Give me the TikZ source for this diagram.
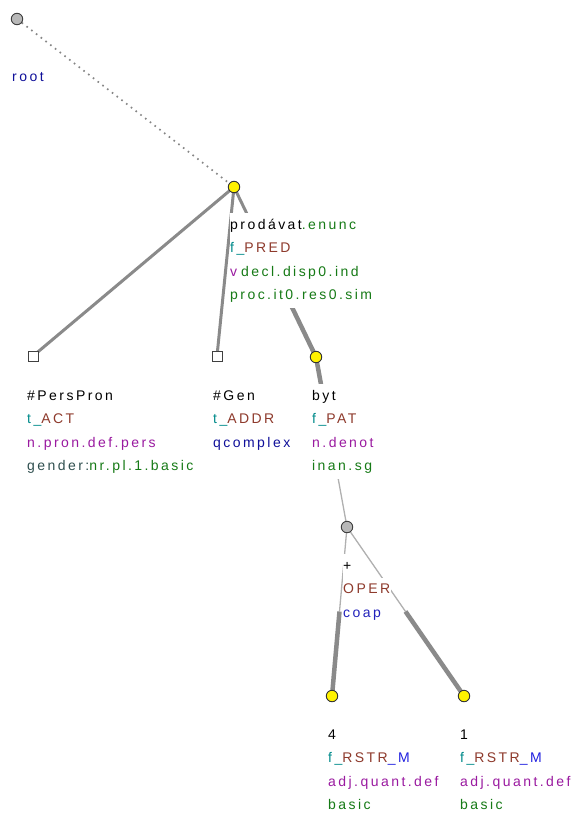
\documentclass[tikz,border=0pt]{standalone}
\usepackage{fontspec}
\setmainfont[LetterSpace=17.5]{Liberation Sans}
\usetikzlibrary{calc,backgrounds}
\definecolor{tcol}{HTML}{008B8B}
\definecolor{fcol}{HTML}{8E3A2C}
\definecolor{mcol}{HTML}{9A1AA0}
\definecolor{gcol}{HTML}{167A16}
\definecolor{dsg}{HTML}{2F4F4F}
\definecolor{bcol}{HTML}{10109A}
\definecolor{ccol}{HTML}{2222BB}
\definecolor{mblue}{HTML}{2020E0}
\definecolor{edgec}{HTML}{8A8A8A}
\definecolor{thinc}{HTML}{B0B0B0}
\begin{document}
\begin{tikzpicture}[x=1pt,y=-1pt,font=\fontsize{14}{16}\selectfont,
  lbl/.style={anchor=base west,fill=white,inner xsep=0.5pt,inner ysep=2pt,text height=14pt,text depth=6pt},
  ynode/.style={circle,draw=black!80,line width=0.9pt,fill=yellow,minimum size=11.5pt,inner sep=0pt},
  gnode/.style={circle,draw=black!75,line width=0.9pt,fill=black!28,minimum size=11.5pt,inner sep=0pt},
  snode/.style={rectangle,draw=black!75,line width=0.9pt,fill=white,minimum size=10pt,inner sep=0pt},
  mainedge/.style={draw=edgec,line width=3pt},
  thickedge/.style={draw=edgec,line width=4.5pt},
  thinedge/.style={draw=thinc,line width=1.3pt},
  rootedge/.style={draw=black!48,line width=1.7pt,dash pattern=on 1.6pt off 4.4pt}]
\useasboundingbox (0,0) rectangle (572,814);
% nodes
\node[gnode] (root) at (17,19) {};
\node[ynode] (prod) at (234,187) {};
\node[snode] (pers) at (33,356) {};
\node[snode] (gen) at (217,356) {};
\node[ynode] (byt) at (316,357) {};
\node[gnode] (coap) at (347,527) {};
\node[ynode] (four) at (332,696) {};
\node[ynode] (one) at (464,696) {};
% labels
\node[lbl] (rootL1) at (11.5,81) {\textcolor{bcol}{root}};
\node[lbl] (prodL1) at (229.5,229) {prodávat\textcolor{gcol}{.enunc}};
\node[lbl] (prodL2) at (229.5,252.6) {\textcolor{tcol}{f\_}\textcolor{fcol}{PRED}};
\node[lbl] (prodL3) at (229.5,276.2) {\textcolor{mcol}{v}\hspace{4pt}\textcolor{gcol}{decl.disp0.ind}};
\node[lbl] (prodL4) at (229.5,299.8) {\textcolor{gcol}{proc.it0.res0.sim}};
\node[lbl] (persL1) at (26.5,400) {\#PersPron};
\node[lbl] (persL2) at (26.5,423.6) {\textcolor{tcol}{t\_}\textcolor{fcol}{ACT}};
\node[lbl] (persL3) at (26.5,447.2) {\textcolor{mcol}{n.pron.def.pers}};
\node[lbl] (persL4) at (26.5,470.8) {\textcolor{dsg}{gender:}\textcolor{gcol}{nr.pl.1.basic}};
\node[lbl] (genL1) at (212.5,400) {\#Gen};
\node[lbl] (genL2) at (212.5,423.6) {\textcolor{tcol}{t\_}\textcolor{fcol}{ADDR}};
\node[lbl] (genL3) at (212.5,447.2) {\textcolor{bcol}{qcomplex}};
\node[lbl] (bytL1) at (311.5,400) {byt};
\node[lbl] (bytL2) at (311.5,423.6) {\textcolor{tcol}{f\_}\textcolor{fcol}{PAT}};
\node[lbl] (bytL3) at (311.5,447.2) {\textcolor{mcol}{n.denot}};
\node[lbl] (bytL4) at (311.5,470.8) {\textcolor{gcol}{inan.sg}};
\node[lbl] (coapL1) at (342.5,570) {+};
\node[lbl] (coapL2) at (342.5,593.6) {\textcolor{fcol}{OPER}};
\node[lbl] (coapL3) at (342.5,617.2) {\textcolor{ccol}{coap}};
\node[lbl] (fourL1) at (327.5,739) {4};
\node[lbl] (fourL2) at (327.5,762.6) {\textcolor{tcol}{f\_}\textcolor{fcol}{RSTR}\textcolor{mblue}{\_M}};
\node[lbl] (fourL3) at (327.5,786.2) {\textcolor{mcol}{adj.quant.def}};
\node[lbl] (fourL4) at (327.5,809.8) {\textcolor{gcol}{basic}};
\node[lbl] (oneL1) at (459.5,739) {1};
\node[lbl] (oneL2) at (459.5,762.6) {\textcolor{tcol}{f\_}\textcolor{fcol}{RSTR}\textcolor{mblue}{\_M}};
\node[lbl] (oneL3) at (459.5,786.2) {\textcolor{mcol}{adj.quant.def}};
\node[lbl] (oneL4) at (459.5,809.8) {\textcolor{gcol}{basic}};
% edges
\begin{pgfonlayer}{background}
\coordinate (mA) at ($(prod)!0.5!(byt)$);
\coordinate (mB) at ($(byt)!0.5!(coap)$);
\coordinate (mC) at ($(coap)!0.5!(four)$);
\coordinate (mD) at ($(coap)!0.5!(one)$);
\draw[rootedge] (root.center) -- (prod.center);
\draw[mainedge] (prod.center) -- (pers.center);
\draw[mainedge] (prod.center) -- (gen.center);
\draw[mainedge] (prod.center) -- (mA);
\draw[thickedge] (mA) -- (byt.center);
\draw[thickedge] (byt.center) -- (mB);
\draw[thinedge] (mB) -- (coap.center);
\draw[thinedge] (coap.center) -- (mC);
\draw[thickedge] (mC) -- (four.center);
\draw[thinedge] (coap.center) -- (mD);
\draw[thickedge] (mD) -- (one.center);
\end{pgfonlayer}
\end{tikzpicture}
\end{document}
